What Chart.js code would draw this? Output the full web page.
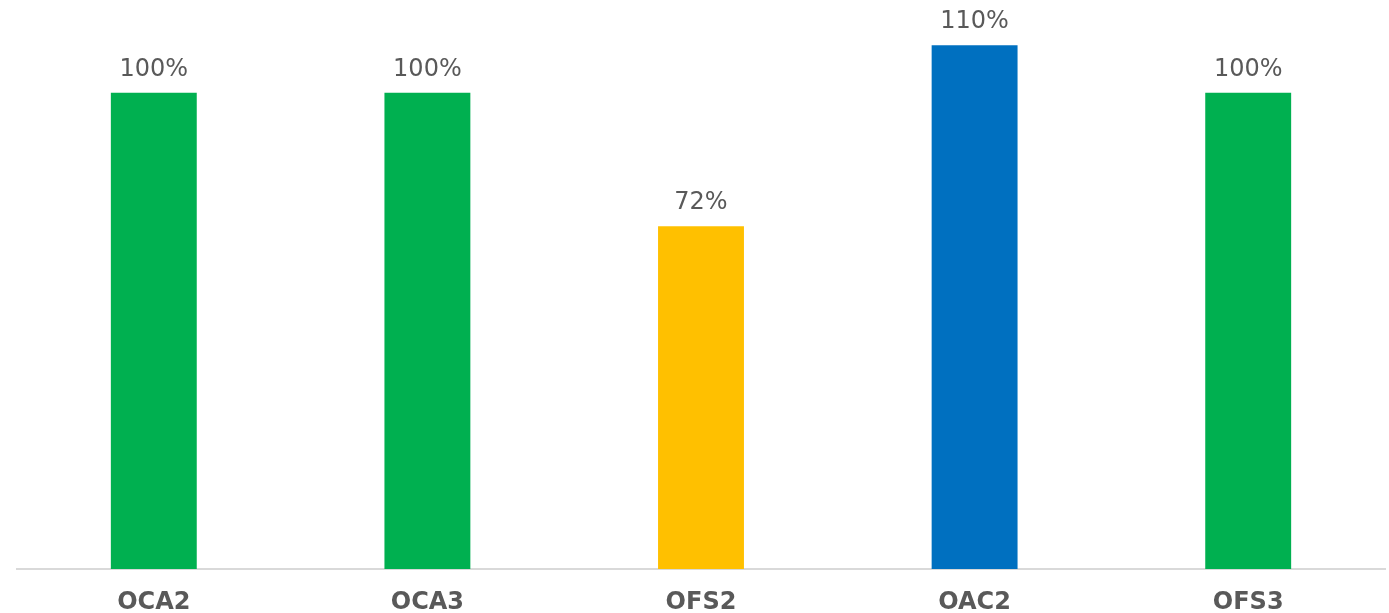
<!DOCTYPE html>
<html>
<head>
<meta charset="utf-8">
<script src="https://cdn.jsdelivr.net/npm/chart.js@4/dist/chart.umd.min.js"></script>
<style>
  html, body { margin: 0; padding: 0; background: #ffffff; }
  #wrap { width: 1389px; height: 613px; }
</style>
</head>
<body>
<div id="wrap"><canvas id="grafico" width="1389" height="613"></canvas></div>
<script>
const categorias = ['OCA2', 'OCA3', 'OFS2', 'OAC2', 'OFS3'];
const valores = [100, 100, 72, 110, 100];
const cores = ['#00B050', '#00B050', '#FFC000', '#0070C0', '#00B050'];

// rótulos em cima das barras
const rotulos = {
    id: 'rotulos',
    afterDatasetsDraw(chart) {
        const ctx = chart.ctx;
        const meta = chart.getDatasetMeta(0);
        ctx.save();
        ctx.font = '24px "DejaVu Sans", Verdana, sans-serif';
        ctx.fillStyle = '#595959';
        ctx.textAlign = 'center';
        ctx.textBaseline = 'bottom';
        meta.data.forEach((bar, i) => {
            ctx.fillText(valores[i] + '%', bar.x, bar.y - 11);
        });
        ctx.restore();
    }
};

new Chart(document.getElementById('grafico').getContext('2d'), {
    type: 'bar',
    data: {
        labels: categorias,
        datasets: [{
            data: valores,
            backgroundColor: cores,
            borderWidth: 0,
            categoryPercentage: 1,
            barPercentage: 0.314
        }]
    },
    options: {
        responsive: false,
        animation: false,
        layout: { padding: { left: 17, right: 4, top: 0, bottom: 0 } },
        plugins: {
            legend: { display: false },
            tooltip: { enabled: false }
        },
        scales: {
            x: {
                grid: { display: false, drawTicks: false },
                border: { display: true, color: '#D9D9D9', width: 2 },
                ticks: {
                    color: '#595959',
                    padding: 19,
                    font: { family: '"DejaVu Sans", Verdana, sans-serif', size: 24, weight: 'bold' }
                },
                afterFit(scale) { scale.height = 44; }
            },
            y: {
                display: false,
                min: 0,
                max: 119.5
            }
        }
    },
    plugins: [rotulos]
});
</script>
</body>
</html>
